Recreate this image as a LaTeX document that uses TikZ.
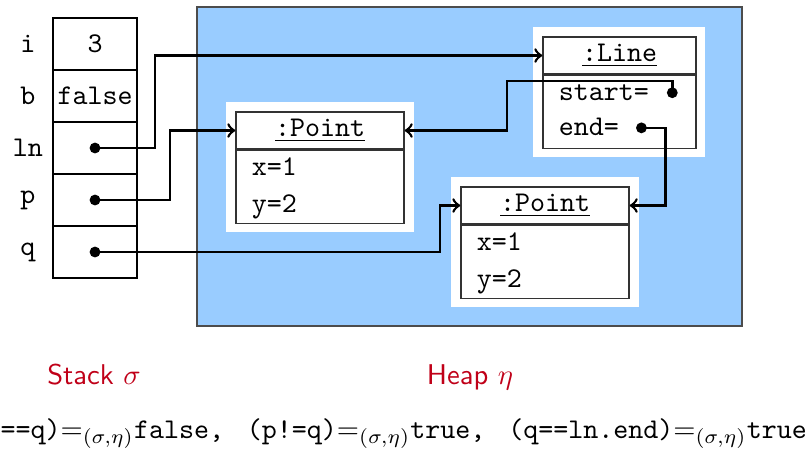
\documentclass[tikz,border=0pt]{standalone}
\usepackage{amsmath}
\usepackage{amssymb}
\usepackage{tikz}
\usetikzlibrary{positioning}

\definecolor{heapblue}{RGB}{153,204,255}
\definecolor{alertred}{RGB}{192,0,24}

\tikzset{
  cell/.style={draw, line width=0.9pt, minimum width=29.4pt, minimum height=18.2pt, inner sep=0pt},
  dot/.style={circle, fill=black, inner sep=0pt, minimum size=3.8pt},
  backing/.style={fill=white, inner sep=0pt, minimum height=45.5pt},
  objhead/.style={draw=black!80, line width=0.5pt, fill=white, minimum height=12.95pt, inner sep=0pt},
  objbody/.style={draw=black!80, line width=0.5pt, fill=white, minimum height=25.55pt, inner sep=0pt},
  attr/.style={inner sep=0pt, anchor=base west},
  ref/.style={->, line width=0.9pt},
  region/.style={text=alertred, font=\sffamily, anchor=base},
}

\begin{document}
\begin{tikzpicture}[x=0.35pt, y=-0.35pt, font=\ttfamily]
  \useasboundingbox (0,0) rectangle (805,453);

  % heap area
  \filldraw[fill=heapblue, draw=black!70, line width=0.5pt] (197,7) rectangle (742,326);

  % white frames behind the objects
  \node[backing, minimum width=65.5pt] (pt1bg) at (320,167) {};
  \node[backing, minimum width=60.2pt] (linebg) at (619,92) {};
  \node[backing, minimum width=65.5pt] (pt2bg) at (545,242) {};

  % :Point (p)
  \node[objhead, minimum width=58.8pt] (pt1head) at (320,130.5) {\underline{:Point}};
  \node[objbody, minimum width=58.8pt, below=0pt of pt1head] (pt1body) {};
  \node[attr] (pt1x) at ([xshift=5.6pt, yshift=-9.1pt]pt1body.north west) {x=1};
  \node[attr] (pt1y) at ([yshift=-12.8pt]pt1x.base west) {y=2};

  % :Line (ln)
  \node[objhead, minimum width=53.55pt] (linehead) at (619.5,55.5) {\underline{:Line}};
  \node[objbody, minimum width=53.55pt, below=0pt of linehead] (linebody) {};
  \node[attr] (linestart) at ([xshift=5.6pt, yshift=-9.1pt]linebody.north west) {start=};
  \node[attr] (lineend) at ([yshift=-12.3pt]linestart.base west) {end=};
  \node[dot] (startv) at ([xshift=8pt, yshift=2.8pt]linestart.base east) {};
  \node[dot] (endv) at ([xshift=7.7pt, yshift=2.8pt]lineend.base east) {};

  % :Point (q)
  \node[objhead, minimum width=58.8pt] (pt2head) at (545,205.5) {\underline{:Point}};
  \node[objbody, minimum width=58.8pt, below=0pt of pt2head] (pt2body) {};
  \node[attr] (pt2x) at ([xshift=5.6pt, yshift=-9.1pt]pt2body.north west) {x=1};
  \node[attr] (pt2y) at ([yshift=-12.8pt]pt2x.base west) {y=2};

  % stack frame
  \foreach \v/\val [count=\n] in {i/3, b/false, ln/, p/, q/} {
    \node[cell] (cell-\v) at (95,-8+52*\n) {\val};
    \node (name-\v) at (28,-8+52*\n) {\v};
  }
  \node[dot] (lnv) at (cell-ln) {};
  \node[dot] (pv) at (cell-p) {};
  \node[dot] (qv) at (cell-q) {};

  % references
  \draw[ref] (lnv.center) -- ++(60,0) |- (linehead.west);
  \draw[ref] (pv.center) -- ++(75,0) |- (pt1head.west);
  \draw[ref] (qv.center) -- ++(345,0) |- (pt2head.west);
  \draw[ref] (startv.center) |- (507,81) |- (pt1head.east);
  \draw[ref] (endv.center) -- ++(24,0) |- (pt2head.east);

  % captions
  \node[region] (stacklbl) at (94,384) {Stack $\sigma$};
  \node[region] (heaplbl) at (470,384) {Heap $\eta$};
  \node[anchor=base west, inner sep=0pt] (cmp) at (-30,438)
    {(p==q)$=_{(\sigma,\eta)}$false,\hspace{8pt}(p!=q)$=_{(\sigma,\eta)}$true,\hspace{8pt}(q==ln.end)$=_{(\sigma,\eta)}$true};
\end{tikzpicture}
\end{document}
